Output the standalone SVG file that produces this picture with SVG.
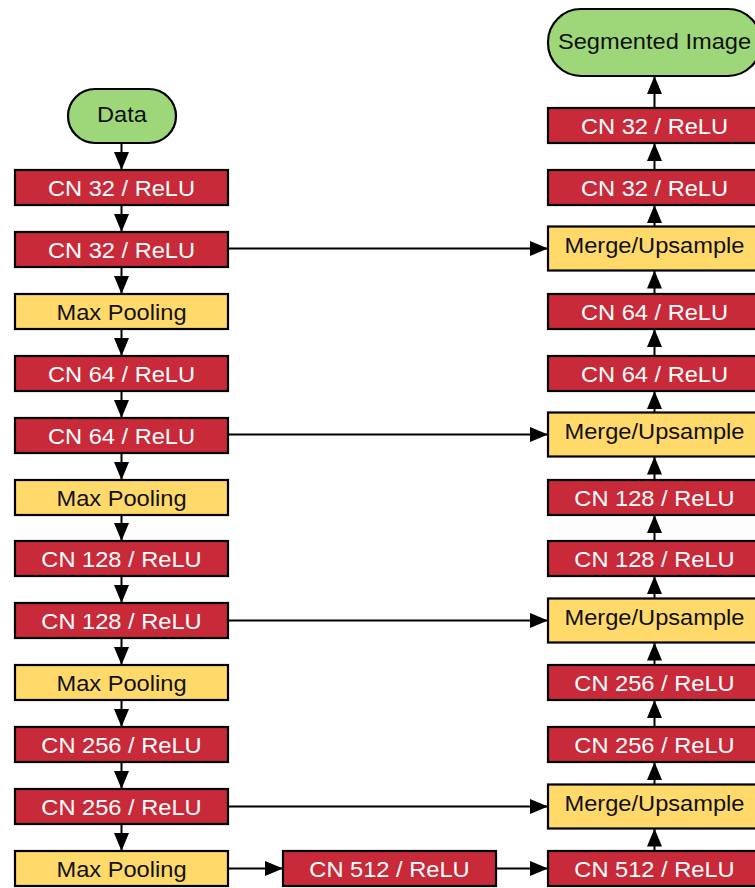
<svg xmlns="http://www.w3.org/2000/svg" width="755" height="888" viewBox="0 0 755 888">
<defs>
<marker id="ah" viewBox="0 0 18 15" refX="18" refY="7.5" markerWidth="18" markerHeight="15" markerUnits="userSpaceOnUse" orient="auto">
<path d="M0,0 L18,7.5 L0,15 z" fill="#000"/>
</marker>
<style>
.red{fill:#C92A3A;stroke:#000;stroke-width:2.2}
.yel{fill:#FFD96A;stroke:#000;stroke-width:2.2}
.grn{fill:#9ED77A;stroke:#000;stroke-width:2.2}
text{font-family:"Liberation Sans",Arial,sans-serif;font-size:21.5px;text-anchor:middle}
.w{fill:#fff}
.b{fill:#111}
.c{stroke:#000;stroke-width:2;fill:none;marker-end:url(#ah)}
</style>
</defs>
<rect width="755" height="888" fill="#fff"/>
<g id="connectors">
<line class="c" x1="121.5" y1="143" x2="121.5" y2="170"/>
<line class="c" x1="121.5" y1="205" x2="121.5" y2="232"/>
<line class="c" x1="121.5" y1="267" x2="121.5" y2="294"/>
<line class="c" x1="121.5" y1="329" x2="121.5" y2="356"/>
<line class="c" x1="121.5" y1="391" x2="121.5" y2="418"/>
<line class="c" x1="121.5" y1="453" x2="121.5" y2="480"/>
<line class="c" x1="121.5" y1="515" x2="121.5" y2="541"/>
<line class="c" x1="121.5" y1="576" x2="121.5" y2="603"/>
<line class="c" x1="121.5" y1="638" x2="121.5" y2="665"/>
<line class="c" x1="121.5" y1="700" x2="121.5" y2="727"/>
<line class="c" x1="121.5" y1="762" x2="121.5" y2="789"/>
<line class="c" x1="121.5" y1="824" x2="121.5" y2="851"/>
<line class="c" x1="228" y1="248.5" x2="548" y2="248.5"/>
<line class="c" x1="228" y1="434.5" x2="548" y2="434.5"/>
<line class="c" x1="228" y1="620.5" x2="548" y2="620.5"/>
<line class="c" x1="228" y1="806.5" x2="548" y2="806.5"/>
<line class="c" x1="228" y1="868.5" x2="283" y2="868.5"/>
<line class="c" x1="496" y1="868.5" x2="548" y2="868.5"/>
<line class="c" x1="654.5" y1="851" x2="654.5" y2="828.5"/>
<line class="c" x1="654.5" y1="784.5" x2="654.5" y2="762"/>
<line class="c" x1="654.5" y1="727" x2="654.5" y2="700"/>
<line class="c" x1="654.5" y1="665" x2="654.5" y2="642.5"/>
<line class="c" x1="654.5" y1="598.5" x2="654.5" y2="576"/>
<line class="c" x1="654.5" y1="541" x2="654.5" y2="515"/>
<line class="c" x1="654.5" y1="480" x2="654.5" y2="456.5"/>
<line class="c" x1="654.5" y1="412.5" x2="654.5" y2="391"/>
<line class="c" x1="654.5" y1="356" x2="654.5" y2="329"/>
<line class="c" x1="654.5" y1="294" x2="654.5" y2="270.5"/>
<line class="c" x1="654.5" y1="226.5" x2="654.5" y2="205"/>
<line class="c" x1="654.5" y1="170" x2="654.5" y2="143"/>
<line class="c" x1="654.5" y1="108" x2="654.5" y2="76"/>
</g>
<g id="data"><rect class="grn" x="68" y="89" width="108" height="54" rx="27"/><text class="b" transform="translate(122,121.5) scale(1.1,1)">Data</text></g>
<g id="l1"><rect class="red" x="15" y="170" width="213" height="35"/><text class="w" transform="translate(121.5,195.5) scale(1.1,1)">CN 32 / ReLU</text></g>
<g id="l2"><rect class="red" x="15" y="232" width="213" height="35"/><text class="w" transform="translate(121.5,257.5) scale(1.1,1)">CN 32 / ReLU</text></g>
<g id="l3"><rect class="yel" x="15" y="294" width="213" height="35"/><text class="b" transform="translate(121.5,319.5) scale(1.1,1)">Max Pooling</text></g>
<g id="l4"><rect class="red" x="15" y="356" width="213" height="35"/><text class="w" transform="translate(121.5,381.5) scale(1.1,1)">CN 64 / ReLU</text></g>
<g id="l5"><rect class="red" x="15" y="418" width="213" height="35"/><text class="w" transform="translate(121.5,443.5) scale(1.1,1)">CN 64 / ReLU</text></g>
<g id="l6"><rect class="yel" x="15" y="480" width="213" height="35"/><text class="b" transform="translate(121.5,505.5) scale(1.1,1)">Max Pooling</text></g>
<g id="l7"><rect class="red" x="15" y="541" width="213" height="35"/><text class="w" transform="translate(121.5,566.5) scale(1.1,1)">CN 128 / ReLU</text></g>
<g id="l8"><rect class="red" x="15" y="603" width="213" height="35"/><text class="w" transform="translate(121.5,628.5) scale(1.1,1)">CN 128 / ReLU</text></g>
<g id="l9"><rect class="yel" x="15" y="665" width="213" height="35"/><text class="b" transform="translate(121.5,690.5) scale(1.1,1)">Max Pooling</text></g>
<g id="l10"><rect class="red" x="15" y="727" width="213" height="35"/><text class="w" transform="translate(121.5,752.5) scale(1.1,1)">CN 256 / ReLU</text></g>
<g id="l11"><rect class="red" x="15" y="789" width="213" height="35"/><text class="w" transform="translate(121.5,814.5) scale(1.1,1)">CN 256 / ReLU</text></g>
<g id="l12"><rect class="yel" x="15" y="851" width="213" height="35"/><text class="b" transform="translate(121.5,876.5) scale(1.1,1)">Max Pooling</text></g>
<g id="m1"><rect class="red" x="283" y="851" width="213" height="35"/><text class="w" transform="translate(389.5,876.5) scale(1.1,1)">CN 512 / ReLU</text></g>
<g id="seg"><rect class="grn" x="548" y="9" width="213" height="67" rx="33"/><text class="b" transform="translate(654.5,48.5) scale(1.1,1)">Segmented Image</text></g>
<g id="r1"><rect class="red" x="548" y="108" width="213" height="35"/><text class="w" transform="translate(654.5,133.5) scale(1.1,1)">CN 32 / ReLU</text></g>
<g id="r2"><rect class="red" x="548" y="170" width="213" height="35"/><text class="w" transform="translate(654.5,195.5) scale(1.1,1)">CN 32 / ReLU</text></g>
<g id="r3"><rect class="yel" x="548" y="226.5" width="213" height="44"/><text class="b" transform="translate(654.5,253) scale(1.1,1)">Merge/Upsample</text></g>
<g id="r4"><rect class="red" x="548" y="294" width="213" height="35"/><text class="w" transform="translate(654.5,319.5) scale(1.1,1)">CN 64 / ReLU</text></g>
<g id="r5"><rect class="red" x="548" y="356" width="213" height="35"/><text class="w" transform="translate(654.5,381.5) scale(1.1,1)">CN 64 / ReLU</text></g>
<g id="r6"><rect class="yel" x="548" y="412.5" width="213" height="44"/><text class="b" transform="translate(654.5,439) scale(1.1,1)">Merge/Upsample</text></g>
<g id="r7"><rect class="red" x="548" y="480" width="213" height="35"/><text class="w" transform="translate(654.5,505.5) scale(1.1,1)">CN 128 / ReLU</text></g>
<g id="r8"><rect class="red" x="548" y="541" width="213" height="35"/><text class="w" transform="translate(654.5,566.5) scale(1.1,1)">CN 128 / ReLU</text></g>
<g id="r9"><rect class="yel" x="548" y="598.5" width="213" height="44"/><text class="b" transform="translate(654.5,625) scale(1.1,1)">Merge/Upsample</text></g>
<g id="r10"><rect class="red" x="548" y="665" width="213" height="35"/><text class="w" transform="translate(654.5,690.5) scale(1.1,1)">CN 256 / ReLU</text></g>
<g id="r11"><rect class="red" x="548" y="727" width="213" height="35"/><text class="w" transform="translate(654.5,752.5) scale(1.1,1)">CN 256 / ReLU</text></g>
<g id="r12"><rect class="yel" x="548" y="784.5" width="213" height="44"/><text class="b" transform="translate(654.5,811) scale(1.1,1)">Merge/Upsample</text></g>
<g id="r13"><rect class="red" x="548" y="851" width="213" height="35"/><text class="w" transform="translate(654.5,876.5) scale(1.1,1)">CN 512 / ReLU</text></g>
</svg>
